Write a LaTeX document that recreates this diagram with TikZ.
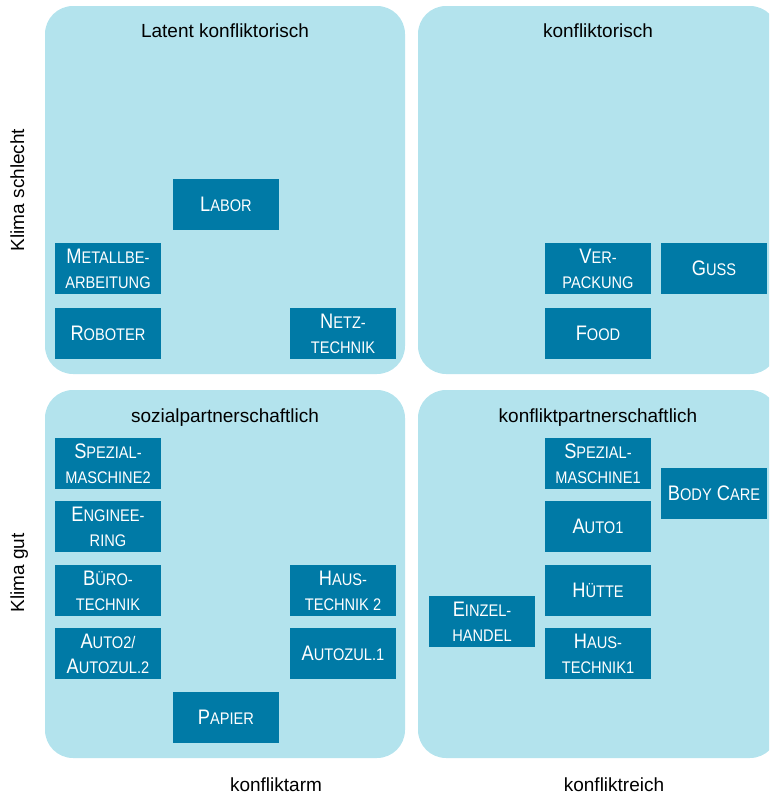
\documentclass[tikz,border=0pt]{standalone}
\usepackage{fontspec}
\setmainfont{Liberation Sans}
\newfontfamily\boxfont[FakeStretch=0.87]{Liberation Sans}
\definecolor{panelblue}{HTML}{B3E3ED}
\definecolor{boxblue}{HTML}{007AA6}
\newcommand{\sk}[1]{{\fontsize{16.8}{25}\selectfont #1}}
\tikzset{
  panel/.style={fill=panelblue, rounded corners=28pt, minimum width=360pt, minimum height=368pt, inner sep=0pt},
  sector/.style={fill=boxblue, text=white, minimum width=106pt, minimum height=51pt, inner sep=0pt, align=center, font=\boxfont\fontsize{21}{25}\selectfont},
  title/.style={anchor=base, font=\fontsize{19}{23}\selectfont},
  axis/.style={anchor=base, font=\fontsize{19}{23}\selectfont}
}
\begin{document}
\begin{tikzpicture}[x={(1pt,0)}, y={(0,-1pt)}]
\clip (0,0) rectangle (769,795);
\node[panel] (ptl) at (225,190){};
\node[panel] (ptr) at (598,190){};
\node[panel] (pbl) at (225,574){};
\node[panel] (pbr) at (598,574){};
\node[title] (ttl) at (225,37){Latent konfliktorisch};
\node[title] (ttr) at (598,37){konfliktorisch};
\node[title] (tbl) at (225,422){sozialpartnerschaftlich};
\node[title] (tbr) at (598,422){konfliktpartnerschaftlich};
\node[axis] (arm) at (276,791){konfliktarm};
\node[axis] (reich) at (614,791){konfliktreich};
\node[axis, rotate=90] (schlecht) at (24,190){Klima schlecht};
\node[axis, rotate=90] (gut) at (24,573){Klima gut};
\node[sector] (labor) at (226,204.5){L\sk{ABOR}};
\node[sector] (metall) at (108,268.5){M\sk{ETALLBE-}\\\sk{ARBEITUNG}};
\node[sector] (roboter) at (108,333.5){R\sk{OBOTER}};
\node[sector] (netz) at (343,333.5){N\sk{ETZ-}\\\sk{TECHNIK}};
\node[sector] (verpackung) at (598,268.5){V\sk{ER-}\\\sk{PACKUNG}};
\node[sector] (guss) at (714,268.5){G\sk{USS}};
\node[sector] (food) at (598,333.5){F\sk{OOD}};
\node[sector] (spezial2) at (108,463.5){S\sk{PEZIAL-}\\\sk{MASCHINE2}};
\node[sector] (engineering) at (108,526.5){E\sk{NGINEE-}\\\sk{RING}};
\node[sector] (buero) at (108,590.5){B\sk{ÜRO-}\\\sk{TECHNIK}};
\node[sector] (auto2) at (108,653.5){A\sk{UTO2/}\\A\sk{UTOZUL.2}};
\node[sector] (haus2) at (343,590.5){H\sk{AUS-}\\\sk{TECHNIK 2}};
\node[sector] (autozul1) at (343,653.5){A\sk{UTOZUL.1}};
\node[sector] (papier) at (226,717.5){P\sk{APIER}};
\node[sector] (spezial1) at (598,463.5){S\sk{PEZIAL-}\\\sk{MASCHINE1}};
\node[sector] (bodycare) at (714,493.5){B\sk{ODY} C\sk{ARE}};
\node[sector] (auto1) at (598,526.5){A\sk{UTO1}};
\node[sector] (huette) at (598,590.5){H\sk{ÜTTE}};
\node[sector] (einzel) at (482,621.5){E\sk{INZEL-}\\\sk{HANDEL}};
\node[sector] (haus1) at (598,653.5){H\sk{AUS-}\\\sk{TECHNIK1}};
\end{tikzpicture}
\end{document}
